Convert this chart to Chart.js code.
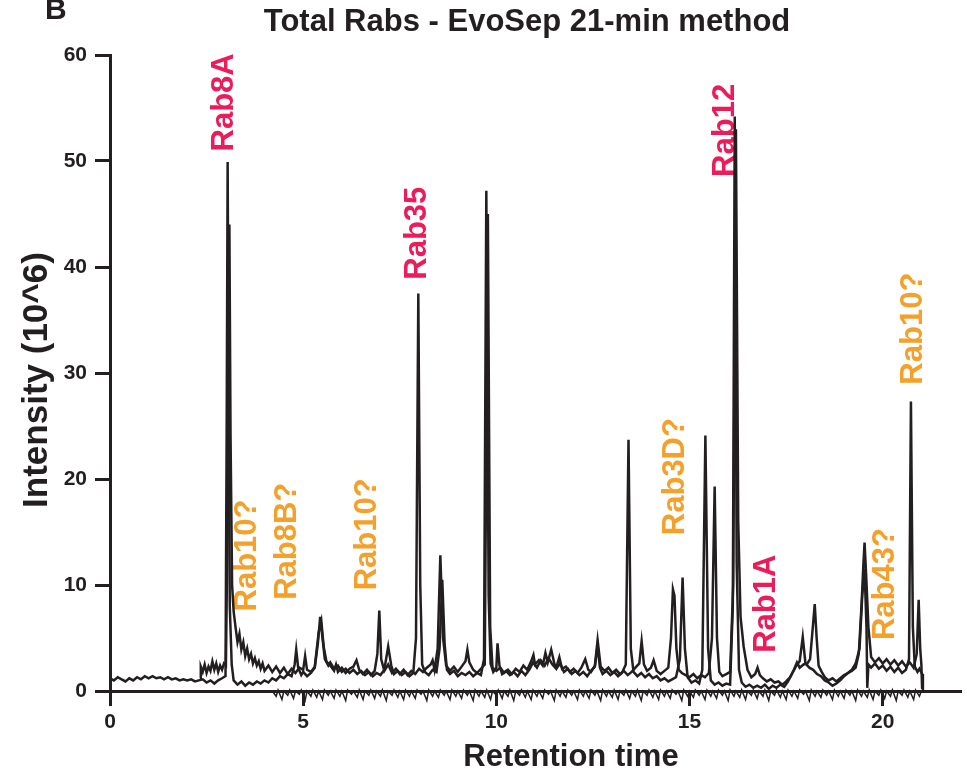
<!DOCTYPE html>
<html>
<head>
<meta charset="utf-8">
<title>Total Rabs - EvoSep 21-min method</title>
<script src="https://cdn.jsdelivr.net/npm/chart.js@4.4.1/dist/chart.umd.min.js"></script>
<style>
  html, body { margin: 0; padding: 0; background: #ffffff; }
  #wrap { width: 967px; height: 779px; }
</style>
</head>
<body>
<div id="wrap"><canvas id="rabs-chart" width="967" height="779"></canvas></div>
<script>
// Chart text
var panelLetter = 'B';
var chartTitle = 'Total Rabs - EvoSep 21-min method';
var xTitle = 'Retention time';
var yTitle = 'Intensity (10^6)';

// Axis ticks
var xTicks = [0, 5, 10, 15, 20];
var yTicks = [0, 10, 20, 30, 40, 50, 60];

// Peak annotations (retention time, intensity where the label starts)
var peakLabels = ['Rab8A', 'Rab10?', 'Rab8B?', 'Rab10?', 'Rab35', 'Rab3D?', 'Rab12', 'Rab1A', 'Rab43?', 'Rab10?'];
var labelTimes = [2.91, 3.50, 4.53, 6.59, 7.89, 14.57, 15.87, 16.92, 20.01, 20.73];
var labelHeights = [50.9, 7.5, 8.6, 9.5, 38.8, 14.7, 48.5, 3.6, 4.8, 28.9];
var labelConfirmed = [true, false, false, false, true, false, true, true, false, false];

// Trace A: run starting at 0 min, [time, intensity]
var traceA = [
  [0.0, 1.2], [0.1, 1.0], [0.2, 1.3], [0.3, 1.1], [0.4, 0.9], [0.5, 1.2], [0.6, 1.0], [0.7, 1.3],
  [0.8, 1.1], [0.9, 1.4], [1.0, 1.2], [1.1, 1.4], [1.2, 1.2], [1.3, 1.3], [1.4, 1.1], [1.5, 1.3],
  [1.6, 1.1], [1.7, 1.2], [1.8, 1.0], [1.9, 1.1], [2.0, 1.0], [2.1, 1.1], [2.2, 0.9], [2.3, 1.0],
  [2.4, 1.1], [2.5, 0.8], [2.6, 1.0], [2.7, 0.7], [2.8, 1.0], [2.9, 1.2], [2.99, 1.4], [3.02, 25],
  [3.045, 49.9], [3.07, 28], [3.1, 8], [3.15, 2.5], [3.2, 1.0], [3.3, 0.6], [3.4, 0.9], [3.5, 0.5],
  [3.6, 0.8], [3.7, 0.6], [3.8, 0.9], [3.9, 0.7], [4.0, 1.0], [4.1, 0.8], [4.2, 1.2], [4.3, 1.0],
  [4.4, 1.4], [4.5, 1.2], [4.6, 1.6], [4.7, 1.4], [4.78, 2.5], [4.82, 3.9], [4.87, 2.2], [4.95, 1.5],
  [5.0, 1.8], [5.1, 1.4], [5.2, 1.7], [5.3, 2.2], [5.38, 4.5], [5.44, 7.0], [5.5, 5.0], [5.56, 3.0],
  [5.65, 2.4], [5.7, 2.7], [5.8, 2.1], [5.9, 2.4], [6.0, 1.8], [6.1, 2.1], [6.2, 1.7], [6.3, 2.0],
  [6.4, 1.6], [6.5, 1.9], [6.6, 1.5], [6.7, 1.8], [6.8, 1.4], [6.9, 1.7], [7.0, 1.5], [7.1, 2.0],
  [7.2, 4.2], [7.28, 2.4], [7.35, 1.6], [7.45, 1.9], [7.55, 1.5], [7.65, 1.8], [7.75, 1.4], [7.85, 1.7],
  [7.92, 5], [7.98, 37.5], [8.03, 10], [8.08, 2.5], [8.15, 1.8], [8.25, 1.5], [8.35, 2.0], [8.45, 1.8],
  [8.53, 4], [8.6, 10.5], [8.66, 4.5], [8.72, 2.0], [8.8, 1.6], [8.9, 1.9], [9.0, 1.4], [9.1, 1.7],
  [9.2, 1.5], [9.3, 1.8], [9.4, 1.4], [9.5, 1.7], [9.6, 1.5], [9.68, 3], [9.74, 47.2], [9.8, 9],
  [9.85, 2.6], [9.92, 1.8], [10.0, 2.2], [10.03, 4.5], [10.08, 2.4], [10.15, 1.6], [10.25, 1.9], [10.35, 1.5],
  [10.45, 1.8], [10.55, 1.4], [10.65, 1.9], [10.75, 1.5], [10.85, 2.0], [10.95, 2.7], [11.05, 2.2], [11.15, 2.9],
  [11.25, 2.4], [11.35, 3.1], [11.45, 2.5], [11.55, 2.1], [11.65, 2.6], [11.75, 1.8], [11.85, 2.1], [11.95, 1.6],
  [12.05, 1.9], [12.15, 1.5], [12.25, 1.8], [12.35, 1.4], [12.45, 1.9], [12.55, 2.3], [12.62, 4.3], [12.68, 2.2],
  [12.75, 1.6], [12.85, 1.9], [12.95, 1.5], [13.05, 1.8], [13.15, 1.4], [13.25, 1.7], [13.35, 2.5], [13.42, 23.7],
  [13.48, 4], [13.55, 1.8], [13.65, 1.4], [13.75, 1.7], [13.85, 1.3], [13.95, 1.6], [14.05, 1.2], [14.15, 1.4],
  [14.25, 1.0], [14.35, 1.2], [14.45, 0.9], [14.55, 1.1], [14.65, 1.3], [14.75, 3], [14.82, 10.7], [14.88, 4],
  [14.95, 1.3], [15.05, 0.8], [15.15, 1.0], [15.25, 0.7], [15.33, 2], [15.41, 24.1], [15.48, 4], [15.55, 1.0],
  [15.65, 0.6], [15.75, 0.8], [15.85, 0.5], [15.95, 0.7], [16.05, 0.6], [16.12, 8], [16.17, 54.2], [16.22, 12],
  [16.28, 2], [16.35, 0.8], [16.45, 0.4], [16.55, 0.6], [16.65, 0.3], [16.75, 0.5], [16.85, 0.3], [16.95, 0.6],
  [17.05, 0.2], [17.15, 0.5], [17.25, 0.3], [17.35, 0.6], [17.45, 0.4], [17.55, 0.9], [17.65, 1.6], [17.75, 2.3],
  [17.85, 2.8], [17.93, 5.1], [18.0, 2.6], [18.1, 2.2], [18.2, 2.0], [18.3, 1.6], [18.4, 1.4], [18.5, 1.0],
  [18.6, 0.8], [18.7, 0.5], [18.8, 0.7], [18.9, 1.0], [19.0, 1.4], [19.1, 1.7], [19.2, 2.0], [19.3, 2.6],
  [19.4, 4], [19.47, 9], [19.53, 11.5], [19.58, 6], [19.6, 0.3], [19.63, 2.5], [19.7, 2.2], [19.8, 2.6],
  [19.9, 2.1], [20.0, 2.4], [20.1, 1.9], [20.2, 2.3], [20.3, 1.8], [20.4, 2.2], [20.5, 1.7], [20.6, 2.0],
  [20.68, 3], [20.73, 27.3], [20.78, 6], [20.83, 2.3], [20.9, 1.8], [20.95, 2.1], [21.02, 1.6], [21.04, 0.1]
];

// Trace B: run starting at 2.3 min
var traceB = [
  [2.33, 1.2], [2.35, 2.3], [2.4, 1.8], [2.45, 2.5], [2.5, 1.7], [2.55, 2.3], [2.6, 1.9], [2.65, 2.8],
  [2.7, 2.0], [2.75, 2.6], [2.8, 1.8], [2.85, 2.4], [2.9, 2.0], [2.95, 2.6], [3.0, 2.4], [3.05, 18],
  [3.09, 44], [3.12, 24], [3.16, 10], [3.2, 7.5], [3.25, 6.0], [3.3, 4.6], [3.35, 5.4], [3.4, 3.9],
  [3.45, 4.6], [3.5, 3.3], [3.55, 4.0], [3.6, 3.0], [3.65, 3.5], [3.7, 2.6], [3.75, 3.1], [3.8, 2.4],
  [3.85, 2.8], [3.9, 2.1], [3.95, 2.6], [4.0, 1.9], [4.1, 2.4], [4.2, 1.8], [4.3, 2.3], [4.4, 1.7],
  [4.5, 2.2], [4.6, 1.6], [4.7, 2.1], [4.8, 1.7], [4.9, 2.2], [5.0, 2.0], [5.05, 3.3], [5.1, 2.0],
  [5.2, 1.8], [5.3, 2.3], [5.4, 5.5], [5.47, 6.6], [5.53, 4.2], [5.6, 2.8], [5.7, 2.4], [5.8, 1.9],
  [5.85, 2.5], [5.9, 1.8], [6.0, 2.2], [6.1, 1.7], [6.2, 2.1], [6.3, 2.3], [6.38, 2.9], [6.45, 2.0],
  [6.55, 1.6], [6.65, 2.0], [6.75, 1.5], [6.85, 1.9], [6.92, 3.5], [6.97, 7.6], [7.02, 3], [7.1, 1.9],
  [7.2, 2.5], [7.3, 1.7], [7.4, 2.1], [7.5, 1.6], [7.6, 2.0], [7.7, 1.5], [7.8, 1.9], [7.9, 1.6],
  [8.0, 2.1], [8.1, 1.8], [8.2, 2.2], [8.3, 2.5], [8.35, 2.9], [8.4, 2.0], [8.48, 4], [8.55, 12.8],
  [8.62, 5], [8.7, 2.4], [8.8, 1.9], [8.9, 2.3], [9.0, 1.8], [9.1, 2.3], [9.2, 2.8], [9.25, 3.9],
  [9.3, 2.7], [9.4, 2.0], [9.5, 1.7], [9.6, 2.1], [9.7, 2.5], [9.78, 45], [9.84, 6], [9.9, 2.2],
  [10.0, 1.9], [10.1, 2.2], [10.2, 1.7], [10.3, 2.0], [10.4, 1.6], [10.5, 2.1], [10.6, 1.8], [10.7, 2.4],
  [10.8, 2.0], [10.9, 2.8], [10.96, 3.4], [11.0, 2.5], [11.1, 2.9], [11.2, 2.4], [11.27, 3.6], [11.33, 2.7],
  [11.42, 3.9], [11.5, 2.6], [11.55, 2.2], [11.63, 3.2], [11.7, 2.1], [11.8, 2.3], [11.9, 1.8], [12.0, 2.1],
  [12.1, 1.7], [12.2, 2.2], [12.3, 3.0], [12.38, 2.0], [12.45, 1.8], [12.55, 2.4], [12.62, 4.8], [12.7, 2.3],
  [12.8, 1.9], [12.9, 2.2], [13.0, 1.7], [13.1, 2.0], [13.2, 1.6], [13.3, 1.9], [13.4, 1.5], [13.5, 1.8],
  [13.6, 2.2], [13.7, 2.6], [13.76, 4.7], [13.82, 2.5], [13.9, 1.9], [14.0, 2.2], [14.07, 2.9], [14.15, 1.9],
  [14.25, 1.6], [14.35, 1.9], [14.45, 2.2], [14.52, 5], [14.57, 9.6], [14.61, 9.0], [14.66, 4], [14.72, 2.0],
  [14.8, 1.7], [14.9, 1.5], [15.0, 1.3], [15.1, 1.6], [15.2, 1.2], [15.3, 1.5], [15.4, 1.3], [15.5, 1.7],
  [15.58, 5], [15.65, 19.3], [15.71, 5], [15.77, 1.8], [15.85, 1.4], [15.95, 1.6], [16.05, 1.8], [16.13, 10],
  [16.2, 53], [16.26, 16], [16.32, 7], [16.4, 4.2], [16.5, 2.0], [16.6, 1.3], [16.7, 1.6], [16.76, 2.2],
  [16.82, 1.5], [16.9, 1.2], [17.0, 0.9], [17.1, 1.1], [17.2, 0.8], [17.3, 0.9], [17.4, 0.6], [17.5, 0.9],
  [17.6, 1.3], [17.7, 2.0], [17.78, 2.7], [17.85, 2.2], [17.95, 2.5], [18.05, 2.6], [18.12, 3], [18.19, 6],
  [18.24, 8.2], [18.29, 5], [18.34, 2.4], [18.42, 1.8], [18.5, 1.3], [18.6, 1.0], [18.7, 1.2], [18.8, 0.9],
  [18.9, 1.2], [19.0, 1.5], [19.1, 1.7], [19.2, 1.9], [19.3, 2.2], [19.38, 3.5], [19.45, 8], [19.5, 12],
  [19.53, 14], [19.57, 11], [19.63, 6], [19.7, 3.2], [19.8, 2.7], [19.9, 3.1], [20.0, 2.6], [20.1, 3.0],
  [20.2, 2.5], [20.3, 2.9], [20.4, 2.4], [20.5, 2.8], [20.6, 2.3], [20.7, 2.7], [20.8, 2.2], [20.88, 3.5],
  [20.93, 8.6], [20.97, 4], [21.0, 2.5], [21.02, 0.2]
];

// Trace C: near-zero run whose noise dips below the axis
var traceC = [
  [4.2, 0.0], [4.3, -0.5], [4.35, 0.1], [4.45, -0.8], [4.5, 0.0], [4.6, -0.4], [4.65, 0.1], [4.75, -0.7],
  [4.8, 0.0], [4.9, -0.3], [4.95, 0.1], [5.05, -0.9], [5.1, 0.0], [5.2, -0.5], [5.25, 0.1], [5.35, -0.6],
  [5.4, 0.0], [5.5, -0.8], [5.55, 0.1], [5.65, -0.4], [5.7, 0.0], [5.8, -0.7], [5.85, 0.1], [5.95, -0.5],
  [6.0, 0.0], [6.1, -0.9], [6.15, 0.1], [6.25, -0.3], [6.3, 0.0], [6.4, -0.6], [6.45, 0.1], [6.55, -0.8],
  [6.6, 0.0], [6.7, -0.4], [6.75, 0.1], [6.85, -0.7], [6.9, 0.0], [7.0, -0.5], [7.05, 0.1], [7.15, -0.9],
  [7.2, 0.0], [7.3, -0.4], [7.35, 0.1], [7.45, -0.6], [7.5, 0.0], [7.6, -0.8], [7.65, 0.1], [7.75, -0.5],
  [7.8, 0.0], [7.9, -0.7], [7.95, 0.1], [8.05, -0.3], [8.1, 0.0], [8.2, -0.9], [8.25, 0.1], [8.35, -0.5],
  [8.4, 0.0], [8.5, -0.6], [8.55, 0.1], [8.65, -0.4], [8.7, 0.0], [8.8, -0.8], [8.85, 0.1], [8.95, -0.5],
  [9.0, 0.0], [9.1, -0.7], [9.15, 0.1], [9.25, -0.4], [9.3, 0.0], [9.4, -0.9], [9.45, 0.1], [9.55, -0.5],
  [9.6, 0.0], [9.7, -0.6], [9.75, 0.1], [9.85, -0.8], [9.9, 0.0], [10.0, -0.4], [10.05, 0.1], [10.15, -0.7],
  [10.2, 0.0], [10.3, -0.5], [10.35, 0.1], [10.45, -0.9], [10.5, 0.0], [10.6, -0.4], [10.65, 0.1], [10.75, -0.6],
  [10.8, 0.0], [10.9, -0.8], [10.95, 0.1], [11.05, -0.5], [11.1, 0.0], [11.2, -0.7], [11.25, 0.1], [11.35, -0.3],
  [11.4, 0.0], [11.5, -0.9], [11.55, 0.1], [11.65, -0.5], [11.7, 0.0], [11.8, -0.6], [11.85, 0.1], [11.95, -0.4],
  [12.0, 0.0], [12.1, -0.8], [12.15, 0.1], [12.25, -0.5], [12.3, 0.0], [12.4, -0.7], [12.45, 0.1], [12.55, -0.4],
  [12.6, 0.0], [12.7, -0.9], [12.75, 0.1], [12.85, -0.5], [12.9, 0.0], [13.0, -0.6], [13.05, 0.1], [13.15, -0.8],
  [13.2, 0.0], [13.3, -0.4], [13.35, 0.1], [13.45, -0.7], [13.5, 0.0], [13.6, -0.5], [13.65, 0.1], [13.75, -0.9],
  [13.8, 0.0], [13.9, -0.4], [13.95, 0.1], [14.05, -0.6], [14.1, 0.0], [14.2, -0.8], [14.25, 0.1], [14.35, -0.5],
  [14.4, 0.0], [14.5, -0.7], [14.55, 0.1], [14.65, -0.3], [14.7, 0.0], [14.8, -0.9], [14.85, 0.1], [14.95, -0.5],
  [15.0, 0.0], [15.1, -0.6], [15.15, 0.1], [15.25, -0.4], [15.3, 0.0], [15.4, -0.8], [15.45, 0.1], [15.55, -0.5],
  [15.6, 0.0], [15.7, -0.7], [15.75, 0.1], [15.85, -0.4], [15.9, 0.0], [16.0, -0.9], [16.05, 0.1], [16.15, -0.5],
  [16.2, 0.0], [16.3, -0.6], [16.35, 0.1], [16.45, -0.8], [16.5, 0.0], [16.6, -0.4], [16.65, 0.1], [16.75, -0.7],
  [16.8, 0.0], [16.9, -0.5], [16.95, 0.1], [17.05, -0.9], [17.1, 0.0], [17.2, -0.4], [17.25, 0.1], [17.35, -0.6],
  [17.4, 0.0], [17.5, -0.8], [17.55, 0.1], [17.65, -0.5], [17.7, 0.0], [17.8, -0.7], [17.85, 0.1], [17.95, -0.3],
  [18.0, 0.0], [18.1, -0.9], [18.15, 0.1], [18.25, -0.5], [18.3, 0.0], [18.4, -0.6], [18.45, 0.1], [18.55, -0.4],
  [18.6, 0.0], [18.7, -0.8], [18.75, 0.1], [18.85, -0.5], [18.9, 0.0], [19.0, -0.7], [19.05, 0.1], [19.15, -0.4],
  [19.2, 0.0], [19.3, -0.9], [19.35, 0.1], [19.45, -0.5], [19.5, 0.0], [19.6, -0.6], [19.65, 0.1], [19.75, -0.8],
  [19.8, 0.0], [19.9, -0.4], [19.95, 0.1], [20.05, -0.7], [20.1, 0.0], [20.2, -0.5], [20.25, 0.1], [20.35, -0.9],
  [20.4, 0.0], [20.5, -0.4], [20.55, 0.1], [20.65, -0.6], [20.7, 0.0], [20.8, -0.8], [20.85, 0.1], [20.95, -0.5],
  [21.0, 0.0]
];

(function () {
    'use strict';

    var INK = '#231f20';
    var PINK = '#ec1b5a';
    var ORANGE = '#f3a12b';
    var FONT = '"Liberation Sans", Arial, Helvetica, sans-serif';

    /**
     * Turn [time, intensity] pairs into chart points.
     */
    function toPoints(pairs) {
        return pairs.map(function (p) {
            return { x: p[0], y: p[1] };
        });
    }

    /**
     * Draws the panel letter, titles and rotated peak names.
     */
    var figureText = {
        id: 'figureText',
        beforeDatasetsDraw: function (chart) {
            var ctx = chart.ctx;
            var xs = chart.scales.x;
            var ys = chart.scales.y;

            ctx.save();
            ctx.font = 'bold 31px ' + FONT;
            ctx.textAlign = 'left';
            ctx.textBaseline = 'alphabetic';
            for (var i = 0; i < peakLabels.length; i++) {
                var px = xs.getPixelForValue(labelTimes[i]);
                var py = ys.getPixelForValue(labelHeights[i]);
                ctx.save();
                ctx.translate(px + 11, py);
                ctx.rotate(-Math.PI / 2);
                ctx.fillStyle = labelConfirmed[i] ? PINK : ORANGE;
                ctx.fillText(peakLabels[i], 0, 0);
                ctx.restore();
            }
            ctx.restore();
        },
        afterDraw: function (chart) {
            var ctx = chart.ctx;
            ctx.save();
            ctx.fillStyle = INK;
            ctx.textBaseline = 'alphabetic';

            ctx.font = 'bold 30px ' + FONT;
            ctx.textAlign = 'left';
            ctx.fillText(panelLetter, 45, 19);

            ctx.font = 'bold 31px ' + FONT;
            ctx.textAlign = 'center';
            ctx.fillText(chartTitle, 527, 31);
            ctx.fillText(xTitle, 571, 766);

            ctx.save();
            ctx.translate(47, 380);
            ctx.rotate(-Math.PI / 2);
            ctx.font = 'bold 35px ' + FONT;
            ctx.fillText(yTitle, 0, 0);
            ctx.restore();

            ctx.restore();
        }
    };

    var axisGrid = {
        drawOnChartArea: false,
        drawTicks: true,
        tickLength: 15,
        tickWidth: 3,
        tickColor: INK,
        color: INK,
        lineWidth: 3
    };

    var ctx = document.getElementById('rabs-chart').getContext('2d');

    new Chart(ctx, {
        type: 'line',
        data: {
            datasets: [{
                label: 'Trace C',
                data: toPoints(traceC),
                borderColor: INK,
                borderWidth: 1.5,
                pointRadius: 0,
                tension: 0,
                clip: false
            }, {
                label: 'Trace B',
                data: toPoints(traceB),
                borderColor: INK,
                borderWidth: 2.5,
                pointRadius: 0,
                tension: 0
            }, {
                label: 'Trace A',
                data: toPoints(traceA),
                borderColor: INK,
                borderWidth: 2.5,
                pointRadius: 0,
                tension: 0
            }]
        },
        options: {
            responsive: false,
            animation: false,
            layout: {
                padding: { top: 55, right: 7, bottom: 0, left: 0 }
            },
            plugins: {
                legend: { display: false },
                tooltip: { enabled: false },
                title: { display: false }
            },
            scales: {
                x: {
                    type: 'linear',
                    min: 0,
                    max: 22,
                    afterFit: function (scale) {
                        scale.height = 88;
                    },
                    afterBuildTicks: function (scale) {
                        scale.ticks = xTicks.map(function (v) { return { value: v }; });
                    },
                    ticks: {
                        color: INK,
                        font: { family: FONT, size: 21, weight: 'bold' },
                        padding: 4,
                        maxRotation: 0
                    },
                    grid: axisGrid,
                    border: { display: true, color: INK, width: 3 }
                },
                y: {
                    min: 0,
                    max: 60,
                    afterFit: function (scale) {
                        scale.width = 110;
                    },
                    afterBuildTicks: function (scale) {
                        scale.ticks = yTicks.map(function (v) { return { value: v }; });
                    },
                    ticks: {
                        color: INK,
                        font: { family: FONT, size: 21, weight: 'bold' },
                        padding: 8
                    },
                    grid: axisGrid,
                    border: { display: true, color: INK, width: 3 }
                }
            }
        },
        plugins: [figureText]
    });
})();
</script>
</body>
</html>
